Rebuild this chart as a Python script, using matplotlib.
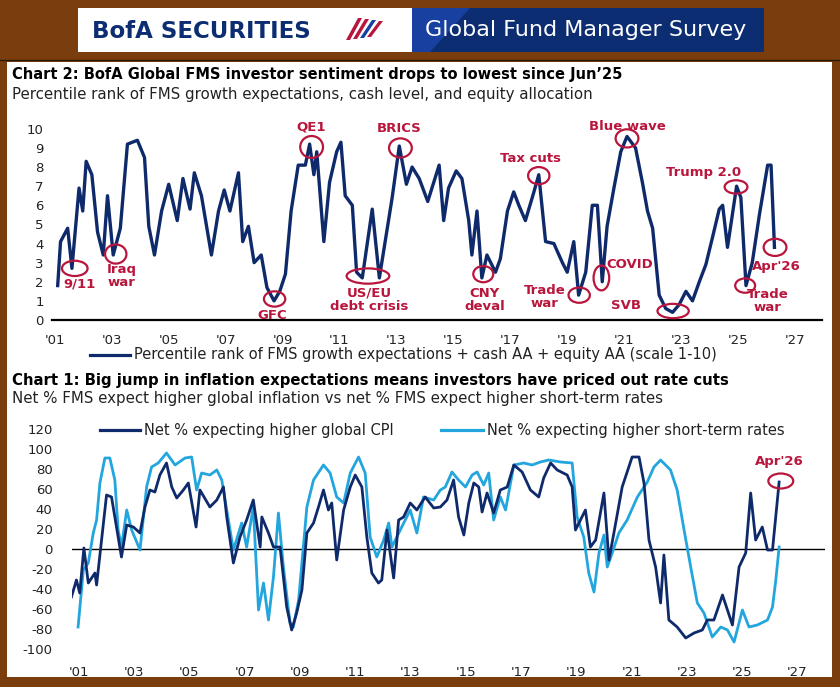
import matplotlib
matplotlib.use("Agg")
import matplotlib.pyplot as plt
from matplotlib.patches import Rectangle, Polygon, Ellipse
from matplotlib.lines import Line2D

plt.rcParams["axes.unicode_minus"] = False

# ---- Chart 2 data: sentiment (scale 1-10)
sent_years = [2001.1,2001.2,2001.45,2001.6,2001.85,2001.98,2002.1,2002.3,2002.5,2002.7,2002.85,2003.05,2003.3,2003.55,2003.9,2004.15,2004.3,2004.5,2004.75,2005.0,2005.3,2005.5,2005.75,2005.9,2006.15,2006.5,2006.75,2006.95,2007.15,2007.45,2007.6,2007.8,2008.0,2008.25,2008.45,2008.7,2008.9,2009.1,2009.3,2009.55,2009.8,2009.95,2010.1,2010.2,2010.45,2010.65,2010.9,2011.05,2011.2,2011.45,2011.6,2011.8,2012.15,2012.4,2012.85,2013.1,2013.35,2013.55,2013.8,2014.1,
              2014.5,2014.66,2014.83,2015.1,2015.3,2015.54,2015.65,2015.83,2016.0,2016.18,2016.48,2016.65,2016.9,2017.12,2017.3,2017.53,2017.83,2018.0,2018.24,2018.53,2018.83,2019.0,2019.23,2019.4,2019.65,2019.88,2020.06,2020.23,2020.4,2020.64,2020.88,2021.1,2021.4,2021.64,2021.82,2022.0,2022.23,2022.46,2022.7,2022.93,2023.17,2023.4,2023.64,2023.87,2024.1,2024.34,2024.46,2024.63,2024.8,2024.95,2025.1,2025.28,2025.5,2025.75,2026.04,2026.16,2026.28]
sent_vals = [1.8,4.1,4.8,2.7,6.9,5.7,8.3,7.6,4.6,3.4,6.5,3.4,4.8,9.2,9.4,8.5,4.9,3.4,5.7,7.1,5.2,7.4,5.8,7.7,6.5,3.4,5.7,6.8,5.7,7.7,4.1,4.9,3.0,3.4,1.7,1.0,1.5,2.4,5.7,8.1,8.1,9.2,7.6,8.8,4.1,7.2,8.8,9.3,6.5,6.0,2.5,2.2,5.8,2.2,6.4,9.1,7.1,8.0,7.4,6.2,
             8.1,5.2,6.9,7.8,7.4,5.2,3.4,5.7,2.2,3.4,2.5,3.2,5.7,6.7,6.0,5.2,6.7,7.6,4.1,4.0,3.0,2.5,4.1,1.3,2.5,6.0,6.0,2.0,4.9,6.9,8.8,9.6,9.0,7.2,5.7,4.8,1.3,0.6,0.4,0.8,1.5,1.0,2.0,2.9,4.3,5.8,6.0,3.8,5.5,7.0,6.4,1.8,3.0,5.5,8.1,8.1,3.8]

# ---- Chart 1 data: net % expecting higher global CPI
cpi_years = [2000.73,2000.91,2001.03,2001.18,2001.34,2001.58,2001.64,2001.82,2002.0,2002.18,2002.36,2002.54,2002.73,2002.97,2003.21,2003.39,2003.57,2003.75,2003.93,2004.17,2004.36,2004.54,2004.78,2004.96,2005.24,2005.38,2005.74,2005.99,2006.23,2006.35,2006.59,2006.83,2007.07,2007.31,2007.56,2007.62,2007.86,2008.04,2008.28,2008.52,2008.70,2008.88,2009.07,2009.25,2009.49,2009.67,2009.85,2010.03,2010.15,2010.33,2010.58,2010.82,2011.0,2011.24,2011.42,2011.60,2011.84,2011.96,2012.15,2012.39,2012.57,2012.75,2012.99,2013.23,2013.53,2013.84,
             2014.08,2014.32,2014.56,2014.74,2014.93,2015.11,2015.29,2015.47,2015.59,2015.77,2016.01,2016.25,2016.50,2016.74,2017.04,2017.34,2017.64,2017.82,2018.07,2018.31,2018.67,2018.85,2018.97,2019.15,2019.33,2019.51,2019.70,2020.0,2020.18,2020.36,2020.66,2020.90,2021.02,2021.27,2021.45,2021.63,2021.87,2022.05,2022.17,2022.35,2022.65,2022.96,2023.26,2023.56,2023.74,2023.98,2024.29,2024.47,2024.65,2024.89,2025.13,2025.31,2025.49,2025.73,2025.92,2026.10,2026.34]
cpi_vals = [-48,-31,-44,1,-34,-24,-36,9,54,52,22,-8,24,22,16,42,59,57,74,86,62,51,59,66,22,59,42,49,62,32,-14,12,29,49,2,32,16,2,2,-58,-81,-64,-41,16,26,42,59,39,46,-11,39,62,74,62,12,-24,-34,-31,19,-29,29,32,46,39,52,41,
            42,49,69,32,14,46,66,62,37,56,36,59,62,84,77,59,52,71,86,79,74,62,19,29,39,2,9,56,-11,16,62,82,92,92,66,9,-18,-54,-6,-71,-78,-89,-84,-81,-71,-71,-46,-61,-76,-18,-4,56,9,22,-1,-1,67]

# ---- Chart 1 data: net % expecting higher short-term rates
rate_years = [2000.97,2001.16,2001.34,2001.52,2001.64,2001.76,2001.94,2002.12,2002.30,2002.42,2002.54,2002.73,2002.91,2003.21,2003.45,2003.63,2003.87,2004.17,2004.48,2004.84,2005.08,2005.26,2005.44,2005.74,2005.99,2006.17,2006.35,2006.59,2006.89,2007.07,2007.31,2007.50,2007.68,2007.86,2008.04,2008.22,2008.40,2008.64,2008.76,2008.95,2009.25,2009.49,2009.85,2010.09,2010.33,2010.58,2010.82,2011.12,2011.36,2011.54,2011.78,2012.03,2012.21,2012.33,2012.63,2012.99,2013.23,2013.47,2013.84,
              2014.08,2014.26,2014.50,2014.74,2014.99,2015.23,2015.41,2015.65,2015.83,2016.01,2016.25,2016.44,2016.74,2017.10,2017.40,2017.70,2018.0,2018.43,2018.85,2019.03,2019.27,2019.45,2019.64,2019.82,2020.0,2020.12,2020.30,2020.54,2020.84,2021.21,2021.57,2021.81,2022.05,2022.41,2022.65,2022.90,2023.14,2023.38,2023.62,2023.92,2024.23,2024.47,2024.71,2025.01,2025.25,2025.55,2025.92,2026.10,2026.22,2026.34]
rate_vals = [-78,-21,-14,16,29,66,91,91,69,19,2,39,19,-1,62,82,86,96,84,91,92,59,76,74,79,69,39,-1,26,2,42,-61,-34,-71,-28,36,-18,-74,-78,-51,42,69,84,76,52,46,76,92,76,12,-8,9,26,2,19,39,16,52,49,
             59,62,77,69,62,74,77,64,76,29,52,39,84,86,84,87,89,87,86,32,12,-24,-43,-4,14,-18,-4,16,29,52,67,82,89,79,59,19,-18,-54,-64,-88,-78,-81,-93,-61,-78,-76,-71,-58,-31,2]

tick_years = list(range(2001, 2028, 2))
tick_labels = ["'%02d" % (y % 100) for y in tick_years]

NAVY = "#0f2a6b"
LIGHT = "#22a6dd"
RED = "#b8163c"
BROWN = "#7a3d0e"

W, H = 840, 687
fig = plt.figure(figsize=(8.4, 6.87), dpi=100)
fig.patch.set_facecolor(BROWN)

def fx(px): return px / W
def fy(py): return 1 - py / H

# panel + header
fig.add_artist(Rectangle((fx(7), fy(677)), fx(825), (677-62)/H, transform=fig.transFigure, fc="white", ec="none", zorder=0))
fig.add_artist(Line2D([0, 1], [fy(60), fy(60)], transform=fig.transFigure, color="#2a1a0a", lw=1))
fig.add_artist(Rectangle((fx(78), fy(52)), fx(334), 44/H, transform=fig.transFigure, fc="white", ec="none"))
fig.add_artist(Rectangle((fx(412), fy(52)), fx(352), 44/H, transform=fig.transFigure, fc="#0c2d72", ec="none"))
fig.add_artist(Polygon([(fx(412), fy(8)), (fx(470), fy(8)), (fx(430), fy(52)), (fx(412), fy(52))], closed=True, transform=fig.transFigure, fc="#1740a0", ec="none"))
fig.text(fx(92), fy(31), "BofA SECURITIES", color="#0c2d72", fontsize=16.5, fontweight="bold", va="center", ha="left")
for i, c in enumerate([RED, RED, "#1740a0", RED]):
    x0 = 346 + i * 7
    fig.add_artist(Polygon([(fx(x0), fy(40 - i)), (fx(x0 + 4), fy(40 - i)), (fx(x0 + 16), fy(18 + i)), (fx(x0 + 12), fy(18 + i))], closed=True, transform=fig.transFigure, fc=c, ec="none"))
fig.text(fx(425), fy(30), "Global Fund Manager Survey", color="white", fontsize=16, va="center", ha="left")

fig.text(fx(12), fy(75), "Chart 2: BofA Global FMS investor sentiment drops to lowest since Jun\u201925", fontsize=10.5, fontweight="bold", va="center")
fig.text(fx(12), fy(95), "Percentile rank of FMS growth expectations, cash level, and equity allocation", fontsize=10.8, va="center", color="#222222")
fig.text(fx(12), fy(380), "Chart 1: Big jump in inflation expectations means investors have priced out rate cuts", fontsize=10.7, fontweight="bold", va="center")
fig.text(fx(12), fy(398), "Net % FMS expect higher global inflation vs net % FMS expect higher short-term rates", fontsize=10.8, va="center", color="#222222")

# ---- chart 2
ax2 = fig.add_axes([fx(52), fy(320), fx(770), 195/H])
ax2.plot(sent_years, sent_vals, color=NAVY, lw=2.4, solid_joinstyle="round")
ax2.set_xlim(2000.9, 2027.95)
ax2.set_ylim(0, 10.2)
ax2.set_yticks(range(0, 11))
ax2.set_xticks(tick_years)
ax2.set_xticklabels(tick_labels)
for s in ["top", "right", "left"]:
    ax2.spines[s].set_visible(False)
ax2.spines["bottom"].set_linewidth(1.6)
ax2.tick_params(length=0, labelsize=9.5, colors="#222222", pad=6)
ax2.tick_params(axis="x", pad=10)
ax2.set_facecolor("none")

def circ(ax, x, y, w, h):
    ax.add_patch(Ellipse((x, y), w, h, fill=False, ec=RED, lw=1.6, clip_on=False, zorder=5))

notes = [
    (2001.7, 2.7, 0.9, 0.8, "9/11", 2001.85, 1.9),
    (2003.14, 3.45, 0.75, 1.0, "Iraq\nwar", 2003.35, 2.3),
    (2008.72, 1.1, 0.75, 0.8, "GFC", 2008.65, 0.25),
    (2010.02, 9.05, 0.8, 1.15, "QE1", 2010.0, 10.1),
    (2012.0, 2.3, 1.5, 0.8, "US/EU\ndebt crisis", 2012.05, 1.05),
    (2013.14, 9.0, 0.8, 1.0, "BRICS", 2013.1, 10.0),
    (2016.05, 2.4, 0.7, 0.85, "CNY\ndeval", 2016.1, 1.05),
    (2018.0, 7.55, 0.75, 0.9, "Tax cuts", 2017.7, 8.45),
    (2019.42, 1.3, 0.75, 0.8, "Trade\nwar", 2018.2, 1.2),
    (2020.2, 2.2, 0.55, 1.3, "COVID", 2021.2, 2.9),
    (2021.1, 9.5, 0.8, 0.95, "Blue wave", 2021.1, 10.1),
    (2022.72, 0.47, 1.1, 0.75, "SVB", 2021.05, 0.75),
    (2024.93, 6.96, 0.8, 0.7, "Trump 2.0", 2023.8, 7.7),
    (2025.25, 1.8, 0.7, 0.75, "Trade\nwar", 2026.05, 1.0),
    (2026.3, 3.8, 0.8, 0.9, "Apr'26", 2026.35, 2.8),
]
for cx, cy, w, h, t, tx, ty in notes:
    circ(ax2, cx, cy, w, h)
    ax2.text(tx, ty, t, color=RED, fontsize=9.5, fontweight="bold", ha="center", va="center", linespacing=1.0, clip_on=False)

fig.add_artist(Line2D([fx(90), fx(130)], [fy(355), fy(355)], transform=fig.transFigure, color=NAVY, lw=2.3))
fig.text(fx(134), fy(355), "Percentile rank of FMS growth expectations + cash AA + equity AA (scale 1-10)", fontsize=10.5, va="center", color="#222222")

# ---- chart 1
ax1 = fig.add_axes([fx(72), fy(655), fx(753), 230/H])
ax1.axhline(0, color="black", lw=1.0, zorder=1)
ax1.plot(rate_years, rate_vals, color=LIGHT, lw=2.0, zorder=2)
ax1.plot(cpi_years, cpi_vals, color=NAVY, lw=2.0, zorder=3)
ax1.set_xlim(2000.75, 2028.0)
ax1.set_ylim(-106, 124)
ax1.set_yticks(range(-100, 121, 20))
ax1.set_xticks(tick_years)
ax1.set_xticklabels(tick_labels)
for s in ax1.spines.values():
    s.set_visible(False)
ax1.tick_params(length=0, labelsize=9.5, colors="#222222", pad=14)
ax1.tick_params(axis="x", pad=8)
ax1.set_facecolor("none")
circ(ax1, 2026.4, 68, 0.9, 15)
ax1.text(2026.35, 87, "Apr'26", color=RED, fontsize=9.5, fontweight="bold", ha="center", va="center")

fig.add_artist(Line2D([fx(100), fx(140)], [fy(430), fy(430)], transform=fig.transFigure, color=NAVY, lw=2.3))
fig.text(fx(144), fy(430), "Net % expecting higher global CPI", fontsize=10.5, va="center", color="#222222")
fig.add_artist(Line2D([fx(441), fx(483)], [fy(430), fy(430)], transform=fig.transFigure, color=LIGHT, lw=2.3))
fig.text(fx(487), fy(430), "Net % expecting higher short-term rates", fontsize=10.5, va="center", color="#222222")

fig.savefig("out.png", dpi=100, facecolor=BROWN)
